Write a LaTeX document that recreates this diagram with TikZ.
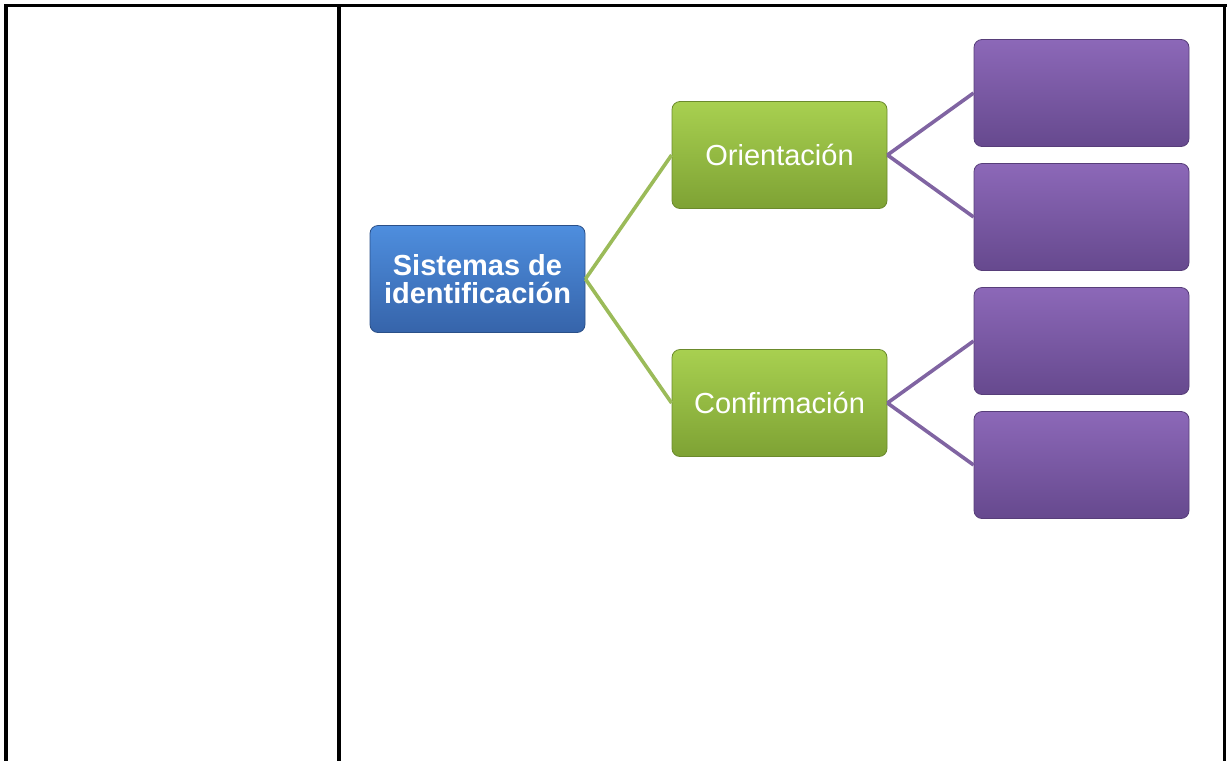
\documentclass[tikz,border=0pt]{standalone}
\usepackage{fontspec}
\setmainfont{Liberation Sans}
\usepackage{tikz}
\definecolor{azul}{RGB}{78,142,222}
\definecolor{azuloscuro}{RGB}{54,100,170}
\definecolor{verde}{RGB}{168,208,80}
\definecolor{verdeoscuro}{RGB}{126,162,52}
\definecolor{lila}{RGB}{140,104,184}
\definecolor{lilaoscuro}{RGB}{102,73,142}
\definecolor{lineaverde}{RGB}{155,187,89}
\definecolor{linealila}{RGB}{128,100,162}

\begin{document}
\begin{tikzpicture}[x=0.5pt, y=0.5pt, grow=right, level distance=151pt,
					parent anchor=east, child anchor=west,
					level 1/.style ={sibling distance=124pt,
						edge from parent/.style={draw=lineaverde, line width=1.8pt}},
					level 2/.style ={sibling distance=62pt,
						edge from parent/.style={draw=linealila, line width=1.8pt}},
					raiz/.style ={top color=azul, bottom color=azuloscuro, draw=azuloscuro!80!black,
						font=\fontsize{14.5}{14}\selectfont\bfseries},
					rama/.style ={top color=verde, bottom color=verdeoscuro, draw=verdeoscuro!85!black},
					hoja/.style ={top color=lila, bottom color=lilaoscuro, draw=lilaoscuro!85!black},
					every node/.style = {shape=rectangle, rounded corners=4pt,
						line width=0.4pt, align=center, text=white, inner sep=2pt,
						minimum width=107.5pt, minimum height=53.5pt,
					font=\fontsize{14.5}{14}\selectfont}]
					\useasboundingbox (0,0) rectangle (1227,-761);
					\draw[line width=1.5pt] (4.5,-5.5) -- (1227,-5.5);
					\draw[line width=1.8pt] (6,-4) -- (6,-761);
					\draw[line width=1.6pt] (339,-5.5) -- (339,-761);
					\draw[line width=1.5pt] (1224.7,-5.5) -- (1224.7,-761);
					\node[raiz] (sist) at (477.5,-279) {Sistemas de\\identificación}
						child { node[rama] (confir) {Confirmación}
							child { node[hoja] (confirB) {} }
							child { node[hoja] (confirA) {} }
						}
						child { node[rama] (orient) {Orientación}
							child { node[hoja] (orientB) {} }
							child { node[hoja] (orientA) {} }
						};
				\end{tikzpicture}
\end{document}
